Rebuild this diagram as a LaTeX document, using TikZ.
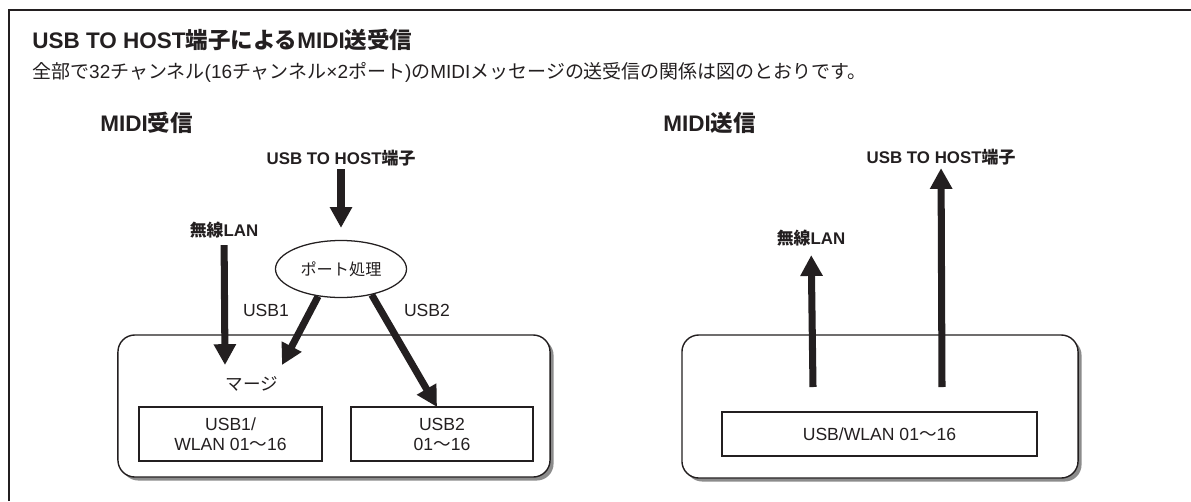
\documentclass[tikz,border=0pt]{standalone}
\usepackage{fontspec}
\setmainfont{Liberation Sans}
\newfontfamily\jpfont{Noto Sans CJK JP}
\newcommand{\jtext}[1]{{\jpfont #1}}
\usetikzlibrary{shapes.geometric,arrows.meta,shadows}
\definecolor{inkblack}{RGB}{35,31,32}
\definecolor{shadowgray}{RGB}{140,140,140}

\begin{document}
\begin{tikzpicture}[x=0.025cm, y=-0.025cm, color=inkblack,
    panel/.style={rectangle, draw=inkblack, line width=1pt, fill=white, rounded corners=12pt, drop shadow={shadow xshift=2.5pt, shadow yshift=-2.5pt, fill=shadowgray, opacity=1}},
    chanbox/.style={rectangle, draw=inkblack, line width=0.9pt, fill=white, align=center, inner sep=0pt, font=\fontsize{12.5}{14.2}\selectfont},
    portnode/.style={ellipse, draw=inkblack, line width=0.9pt, minimum width=3.275cm, minimum height=1.425cm, inner sep=0pt, font=\fontsize{11.5}{13}\selectfont},
    srclabel/.style={font=\bfseries\fontsize{12}{14}\selectfont, inner sep=2pt},
    plainlabel/.style={font=\fontsize{12.5}{14}\selectfont, inner sep=1pt},
    heading/.style={font=\bfseries\fontsize{16}{18}\selectfont, anchor=west, inner sep=0pt},
    bigarrow/.style={-{Triangle[width=0.53cm, length=0.52cm]}, line width=5pt, draw=inkblack}
  ]
  \useasboundingbox (0,0) rectangle (1191,501);

  % Frame and title
  \draw[line width=1pt] (9,501) -- (9,10) -- (1191,10);
  \node[heading] (title) at (32,40) {USB TO HOST\jtext{端子による}MIDI\jtext{送受信}};
  \node[anchor=west, inner sep=0pt, font=\fontsize{13.5}{15}\selectfont] (subtitle) at (32,72) {\jtext{全部で}32\jtext{チャンネル}(16\jtext{チャンネル}×2\jtext{ポート})\jtext{の}MIDI\jtext{メッセージの送受信の関係は図のとおりです。}};

  % MIDI receive side
  \node[heading] (recvhead) at (100,123) {MIDI\jtext{受信}};
  \node[panel, minimum width=10.8cm, minimum height=3.55cm] (recvpanel) at (334,406) {};
  \node[chanbox, minimum width=4.575cm, minimum height=1.35cm] (usb1box) at (230.5,434) {USB1/\\WLAN 01\jtext{〜}16};
  \node[chanbox, minimum width=4.55cm, minimum height=1.35cm] (usb2box) at (442,434) {USB2\\01\jtext{〜}16};
  \node[plainlabel] (merge) at (252,384) {\jtext{マージ}};
  \node[portnode] (port) at (341,269) {\jtext{ポート処理}};
  \node[srclabel] (hostin) at (341,158) {USB TO HOST\jtext{端子}};
  \node[srclabel] (wlanin) at (224,230) {\jtext{無線}LAN};
  \node[plainlabel] (usb1lbl) at (266,310) {USB1};
  \node[plainlabel] (usb2lbl) at (427,310) {USB2};
  \coordinate (mergetip) at (225,365);
  \coordinate (usb1tip) at (282,365);
  \coordinate (usb2tip) at (437,407);

  \draw[bigarrow, shorten >=0.3cm] (hostin) -- (port);
  \draw[bigarrow, shorten <=0.1cm] (wlanin) -- (mergetip);
  \draw[bigarrow] (port.-130) -- (usb1tip);
  \draw[bigarrow] (port.-40) -- (usb2tip);

  % MIDI send side
  \node[heading] (sendhead) at (663,123) {MIDI\jtext{送信}};
  \node[panel, minimum width=9.9cm, minimum height=3.575cm] (sendpanel) at (880,406.5) {};
  \node[chanbox, minimum width=7.875cm, minimum height=1.1cm] (outbox) at (879.5,434) {USB/WLAN 01\jtext{〜}16};
  \node[srclabel] (wlanout) at (811,238) {\jtext{無線}LAN};
  \node[srclabel] (hostout) at (941,157) {USB TO HOST\jtext{端子}};
  \coordinate (wlanfoot) at (813,387);
  \coordinate (hostfoot) at (942,387);

  \draw[bigarrow, shorten >=0.15cm] (wlanfoot) -- (wlanout);
  \draw[bigarrow] (hostfoot) -- (hostout);
\end{tikzpicture}
\end{document}
